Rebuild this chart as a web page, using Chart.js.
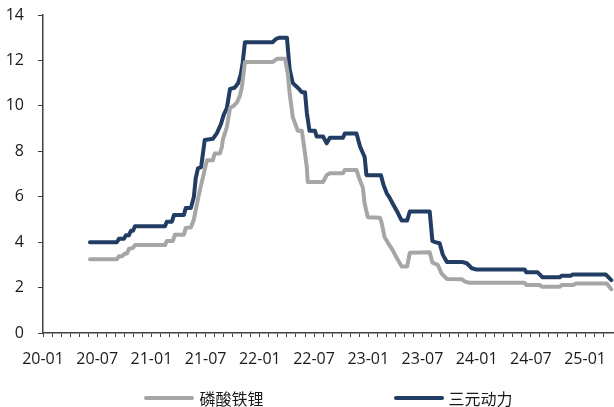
<!DOCTYPE html>
<html>
<head>
<meta charset="utf-8">
<script src="https://cdn.jsdelivr.net/npm/chart.js@4.4.1/dist/chart.umd.min.js"></script>
<style>
  html, body { margin: 0; padding: 0; background: #fff; }
  .wrap { position: relative; width: 614px; height: 407px; }
  #priceChart { display: block; }
  .legend {
    position: absolute; left: 43px; right: 0; top: 388px;
    display: flex; justify-content: center; gap: 130px;
    font-family: "Noto Sans CJK SC", sans-serif; font-size: 16px; color: #1a1a1a;
  }
  .lg-item { display: flex; align-items: center; gap: 5px; line-height: 20px; }
  .lg-line { width: 50px; height: 4px; border-radius: 2px; }
</style>
</head>
<body>
<div class="wrap">
  <canvas id="priceChart" width="614" height="407"></canvas>
  <div class="legend" id="legend"></div>
</div>
<script>
// ─── Data ───────────────────────────────────────────
// x = months since 2020-01
const tickLabels = ['20-01', '20-07', '21-01', '21-07', '22-01', '22-07', '23-01', '23-07', '24-01', '24-07', '25-01'];

const lfpMonths = [
  5.2, 8.19, 8.4, 8.74, 9.07, 9.3, 9.5, 9.96, 10.18, 13.5,
  13.7, 14.38, 14.6, 15.6, 15.8, 16.37, 16.7, 17.0, 17.37, 17.7,
  18.14, 18.8, 19.0, 19.58, 19.8, 19.9, 20.35, 20.7, 21.1, 21.46,
  21.8, 22.0, 22.35, 25.4, 25.9, 26.8, 27.1, 27.3, 27.65, 28.2,
  28.65, 28.76, 29.0, 29.2, 29.3, 31.0, 31.4, 31.75, 33.2, 33.4,
  34.7, 34.96, 35.4, 35.6, 35.95, 37.3, 37.5, 37.8, 38.2, 38.7,
  39.3, 39.7, 40.3, 40.6, 42.8, 43.1, 43.7, 44.1, 44.7, 46.35,
  46.7, 47.2, 53.3, 53.5, 55.0, 55.2, 57.2, 57.4, 58.7, 58.96,
  62.4, 62.9
];
const lfpPrice = [
  3.25, 3.25, 3.38, 3.38, 3.5, 3.5, 3.7, 3.75, 3.87, 3.87,
  4.05, 4.05, 4.33, 4.33, 4.62, 4.65, 5.0, 5.6, 6.3, 6.85,
  7.6, 7.6, 7.9, 7.9, 8.2, 8.5, 9.07, 9.9, 10.0, 10.15,
  10.45, 10.8, 11.93, 11.93, 12.07, 12.07, 11.4, 10.55, 9.5, 8.9,
  8.9, 8.6, 7.9, 7.3, 6.65, 6.65, 6.95, 7.03, 7.03, 7.18,
  7.18, 6.85, 6.4, 5.7, 5.1, 5.07, 4.83, 4.23, 3.96, 3.65,
  3.2, 2.93, 2.93, 3.53, 3.55, 3.1, 3.0, 2.63, 2.38, 2.37,
  2.26, 2.21, 2.21, 2.11, 2.11, 2.04, 2.04, 2.11, 2.11, 2.18,
  2.18, 1.93
];

const ncmMonths = [
  5.2, 8.19, 8.4, 8.96, 9.18, 9.5, 9.73, 9.96, 10.18, 13.5,
  13.7, 14.27, 14.5, 15.6, 15.8, 16.37, 16.7, 16.9, 17.15, 17.5,
  17.9, 18.8, 19.25, 19.7, 20.0, 20.35, 20.7, 21.2, 21.6, 21.9,
  22.1, 22.35, 25.4, 25.8, 26.2, 27.0, 27.3, 27.65, 28.2, 28.65,
  29.0, 29.2, 29.5, 30.1, 30.3, 31.0, 31.4, 31.75, 33.2, 33.4,
  34.7, 35.1, 35.6, 35.8, 37.4, 37.7, 38.05, 38.4, 38.7, 39.3,
  39.7, 40.3, 40.6, 42.8, 43.1, 43.4, 43.9, 44.25, 44.7, 46.35,
  46.9, 47.46, 47.9, 53.3, 53.5, 54.75, 55.3, 57.2, 57.4, 58.4,
  58.6, 62.3, 62.9
];
const ncmPrice = [
  4.0, 4.0, 4.15, 4.15, 4.3, 4.3, 4.5, 4.5, 4.7, 4.7,
  4.9, 4.9, 5.2, 5.2, 5.5, 5.5, 6.0, 6.8, 7.25, 7.3,
  8.5, 8.55, 8.8, 9.2, 9.6, 9.9, 10.75, 10.8, 11.0, 11.4,
  11.9, 12.8, 12.8, 12.95, 13.0, 13.0, 11.6, 11.0, 10.8, 10.6,
  10.6, 9.7, 8.9, 8.9, 8.65, 8.65, 8.35, 8.6, 8.6, 8.78,
  8.78, 8.2, 7.75, 6.95, 6.95, 6.5, 6.15, 5.93, 5.7, 5.27,
  4.95, 4.95, 5.35, 5.35, 4.05, 4.0, 3.95, 3.45, 3.13, 3.13,
  3.07, 2.85, 2.8, 2.8, 2.67, 2.67, 2.45, 2.45, 2.52, 2.52,
  2.57, 2.57, 2.33
];

const seriesNames = ['磷酸铁锂', '三元动力'];
const seriesColors = ['#a6a6a6', '#213d63'];

// ─── Helpers ────────────────────────────────────────
function toPoints(xs, ys) { return xs.map((x, i) => ({ x: x, y: ys[i] })); }

const AXIS = '#404040';
const FONT = { family: '"Open Sans", sans-serif', size: 16 };

// ─── Chart ──────────────────────────────────────────
const chart = new Chart(document.getElementById('priceChart'), {
  type: 'line',
  data: {
    datasets: [
      { label: seriesNames[0], data: toPoints(lfpMonths, lfpPrice), borderColor: seriesColors[0] },
      { label: seriesNames[1], data: toPoints(ncmMonths, ncmPrice), borderColor: seriesColors[1] }
    ].map(d => Object.assign(d, {
      borderWidth: 4, pointRadius: 0, tension: 0, fill: false,
      borderJoinStyle: 'round', borderCapStyle: 'round'
    }))
  },
  options: {
    responsive: false,
    animation: false,
    layout: { padding: { top: 15, right: 0, bottom: 34, left: 0 } },
    plugins: { legend: { display: false }, tooltip: { enabled: false } },
    scales: {
      x: {
        type: 'linear', min: 0, max: 63.2,
        border: { color: AXIS, width: 1.5 },
        grid: { drawOnChartArea: false, drawTicks: true, tickLength: 4, tickColor: AXIS, tickWidth: 1 },
        afterBuildTicks: s => { s.ticks = s.ticks.filter(t => Number.isInteger(t.value)); },
        afterFit: s => { s.height = 40; s.paddingLeft = 0; s.paddingRight = 0; },
        ticks: {
          stepSize: 1, autoSkip: false, maxRotation: 0, padding: 13,
          color: '#1a1a1a', font: FONT,
          callback: v => (v % 6 === 0 ? tickLabels[v / 6] || '' : '')
        }
      },
      y: {
        min: 0, max: 14,
        border: { color: AXIS, width: 1.5 },
        grid: { drawOnChartArea: false, drawTicks: true, tickLength: 5, tickColor: AXIS },
        afterFit: s => { s.width = 43; s.paddingTop = 0; s.paddingBottom = 0; },
        ticks: { stepSize: 2, padding: 14, color: '#1a1a1a', font: FONT }
      }
    }
  }
});

// ─── Legend ─────────────────────────────────────────
document.getElementById('legend').innerHTML = chart.data.datasets.map(d => `
  <div class="lg-item"><span class="lg-line" style="background:${d.borderColor}"></span><span>${d.label}</span></div>
`).join('');
</script>
</body>
</html>
